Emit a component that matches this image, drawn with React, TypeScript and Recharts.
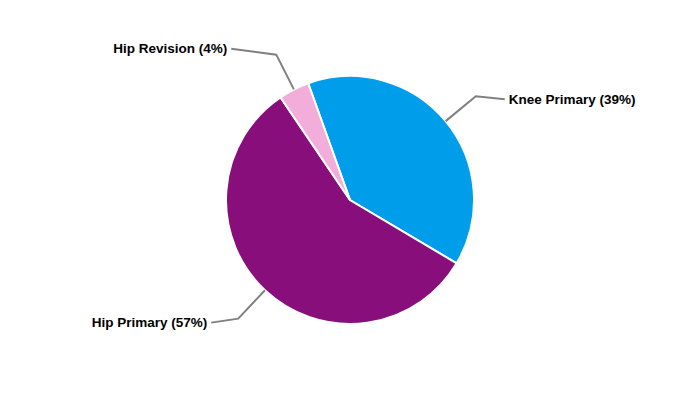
import { PieChart, Pie, Cell } from "recharts";

const categories = ["Knee Primary", "Hip Primary", "Hip Revision"];
const shares = [39, 57, 4];
const colors = ["#009EEA", "#880E7B", "#F2ADDA"];

const data = categories.map((name, i) => ({ name, value: shares[i] }));

// horizontal run and vertical drift of each leader's last segment
const legDx = [29, 27, 45];
const legDy = [3, 4, -6];

const RADIAN = Math.PI / 180;

function renderLabel(props: any) {
  const { cx, cy, midAngle, outerRadius, index, name, value } = props;
  const cos = Math.cos(-midAngle * RADIAN);
  const sin = Math.sin(-midAngle * RADIAN);
  const sx = cx + outerRadius * cos;
  const sy = cy + outerRadius * sin;
  const mx = cx + (outerRadius + 39) * cos;
  const my = cy + (outerRadius + 39) * sin;
  const right = cos >= 0;
  const ex = mx + (right ? 1 : -1) * legDx[index];
  const ey = my + legDy[index];
  return (
    <g key={`lbl-${index}`}>
      <polyline
        points={`${sx},${sy} ${mx},${my} ${ex},${ey}`}
        fill="none"
        stroke="#808080"
        strokeWidth={2}
      />
      <text
        x={ex + (right ? 4 : -4)}
        y={ey}
        textAnchor={right ? "start" : "end"}
        dominantBaseline="central"
        fontFamily="Liberation Sans, Arial, sans-serif"
        fontWeight="bold"
        fontSize={13.5}
        fill="#000"
      >
        {`${name} (${value}%)`}
      </text>
    </g>
  );
}

export default function App() {
  return (
    <div style={{ position: "absolute", left: 0, top: 0, width: 700, height: 400, background: "#fff" }}>
      <PieChart width={700} height={400} margin={{ top: 0, right: 0, bottom: 0, left: 0 }}>
        <Pie
          data={data}
          dataKey="value"
          nameKey="name"
          cx={350}
          cy={200}
          outerRadius={124}
          startAngle={109.7}
          endAngle={-250.3}
          stroke="#fff"
          strokeWidth={2}
          labelLine={false}
          label={renderLabel}
          isAnimationActive={false}
        >
          {data.map((d, i) => (
            <Cell key={d.name} fill={colors[i]} />
          ))}
        </Pie>
      </PieChart>
    </div>
  );
}
